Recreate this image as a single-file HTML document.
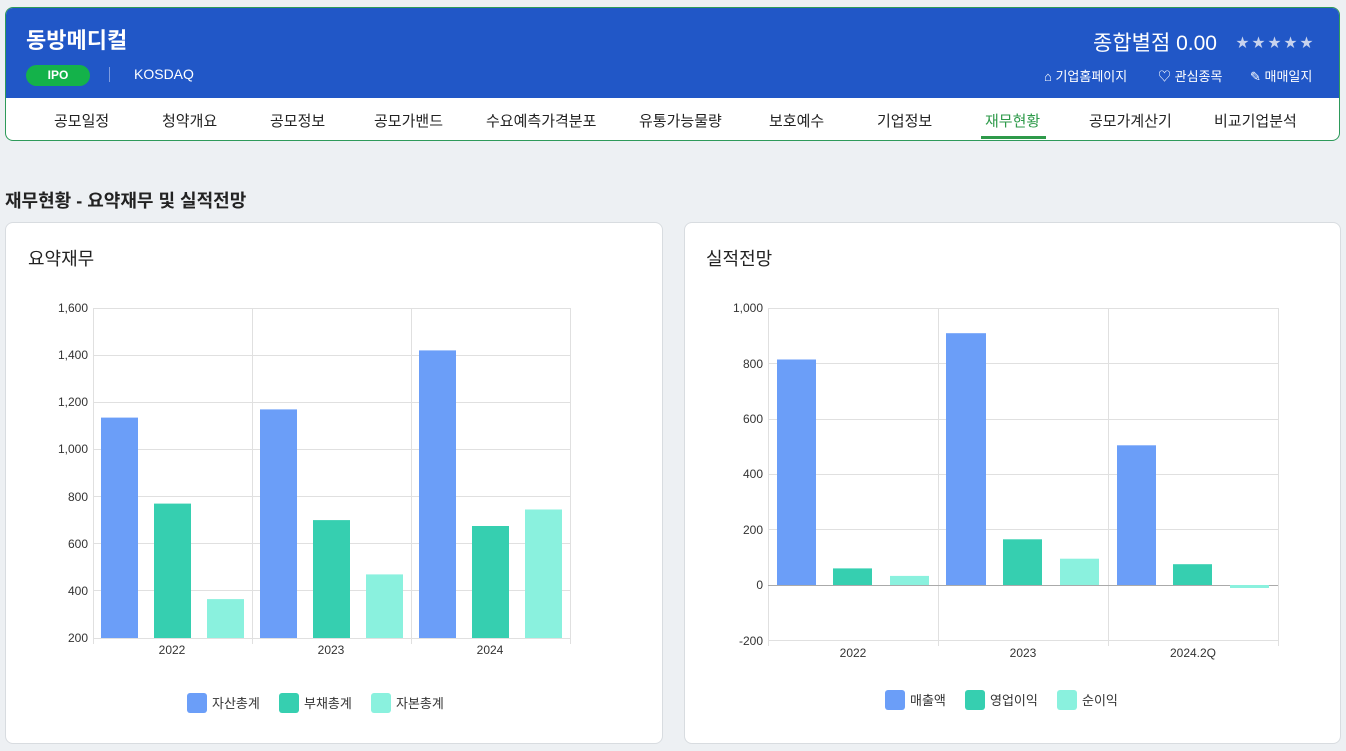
<!DOCTYPE html>
<html><head><meta charset="utf-8"><style>
body{margin:0;width:1346px;height:751px;background:#edf0f3;font-family:"Liberation Sans","Noto Sans CJK KR",sans-serif;position:relative;overflow:hidden;color:#222}
.top{position:absolute;left:5px;top:7px;width:1333px;height:132px;border:1px solid #2e9a5a;border-radius:8px;background:#fff;overflow:hidden}
.blue{position:absolute;left:0;top:0;width:100%;height:90px;background:#2157c7;color:#fff}
.abs{position:absolute;white-space:nowrap}
.nav{position:absolute;top:102px;font-size:15px;color:#222}
.card{position:absolute;top:222px;height:520px;background:#fff;border:1px solid #d8dce0;border-radius:8px}
</style></head><body>
<div class="top">
 <div class="blue">
  <div class="abs" style="left:20px;top:15px;font-size:22px;font-weight:bold">동방메디컬</div>
  <div class="abs" style="left:20px;top:57px;width:64px;height:21px;border-radius:11px;background:#14b24a;font-size:12px;font-weight:bold;text-align:center;line-height:21px">IPO</div>
  <div class="abs" style="left:103px;top:59px;width:1px;height:15px;background:#7d9be0"></div>
  <div class="abs" style="left:128px;top:58px;font-size:14px">KOSDAQ</div>
  <div class="abs" style="left:1087px;top:19px;font-size:21px">종합별점 0.00</div>
  <div class="abs" style="left:1230px;top:24px;font-size:13px;color:#c8d3ee;letter-spacing:3px">★★★★★</div>
  <div class="abs" style="left:1038px;top:58px;font-size:13px">⌂ 기업홈페이지</div>
  <div class="abs" style="left:1152px;top:58px;font-size:13px">♡ 관심종목</div>
  <div class="abs" style="left:1244px;top:58px;font-size:13px">✎ 매매일지</div>
 </div>
 <div class="nav" style="left:48px">공모일정</div>
 <div class="nav" style="left:156px">청약개요</div>
 <div class="nav" style="left:264px">공모정보</div>
 <div class="nav" style="left:368px">공모가밴드</div>
 <div class="nav" style="left:480px">수요예측가격분포</div>
 <div class="nav" style="left:633px">유통가능물량</div>
 <div class="nav" style="left:763px">보호예수</div>
 <div class="nav" style="left:871px">기업정보</div>
 <div class="nav" style="left:979px;color:#2e9a4a">재무현황</div>
 <div class="abs" style="left:975px;top:128px;width:65px;height:3px;background:#2e9a4a"></div>
 <div class="nav" style="left:1083px">공모가계산기</div>
 <div class="nav" style="left:1208px">비교기업분석</div>
</div>
<div class="abs" style="left:5px;top:187px;font-size:18px;font-weight:bold">재무현황 - 요약재무 및 실적전망</div>
<div class="card" style="left:5px;width:656px"></div>
<div class="card" style="left:684px;width:655px"></div>
<div class="abs" style="left:28px;top:245px;font-size:18px">요약재무</div>
<div class="abs" style="left:706px;top:245px;font-size:18px">실적전망</div>
<svg class="abs" style="left:0;top:0" width="1346" height="751" font-family="Liberation Sans, Noto Sans CJK KR, sans-serif" font-size="12" fill="#333">
<g stroke="#e0e0e0" stroke-width="1">
<line x1="93" x2="570" y1="308.5" y2="308.5"/><line x1="93" x2="570" y1="355.5" y2="355.5"/><line x1="93" x2="570" y1="402.5" y2="402.5"/><line x1="93" x2="570" y1="449.5" y2="449.5"/><line x1="93" x2="570" y1="496.5" y2="496.5"/><line x1="93" x2="570" y1="543.5" y2="543.5"/><line x1="93" x2="570" y1="590.5" y2="590.5"/><line x1="93" x2="570" y1="638.5" y2="638.5"/>
<line x1="93.5" x2="93.5" y1="308" y2="644"/><line x1="252.5" x2="252.5" y1="308" y2="644"/><line x1="411.5" x2="411.5" y1="308" y2="644"/><line x1="570.5" x2="570.5" y1="308" y2="644"/>
<line x1="768" x2="1278" y1="308.5" y2="308.5"/><line x1="768" x2="1278" y1="363.5" y2="363.5"/><line x1="768" x2="1278" y1="419.5" y2="419.5"/><line x1="768" x2="1278" y1="474.5" y2="474.5"/><line x1="768" x2="1278" y1="529.5" y2="529.5"/><line x1="768" x2="1278" y1="640.5" y2="640.5"/>
<line x1="768.5" x2="768.5" y1="308" y2="646"/><line x1="938.5" x2="938.5" y1="308" y2="646"/><line x1="1108.5" x2="1108.5" y1="308" y2="646"/><line x1="1278.5" x2="1278.5" y1="308" y2="646"/>
</g>
<line x1="768" x2="1278" y1="585.5" y2="585.5" stroke="#aaa"/>
<g text-anchor="end">
<text x="88" y="312">1,600</text><text x="88" y="359">1,400</text><text x="88" y="406">1,200</text><text x="88" y="453">1,000</text><text x="88" y="501">800</text><text x="88" y="548">600</text><text x="88" y="595">400</text><text x="88" y="642">200</text>
<text x="763" y="312">1,000</text><text x="763" y="368">800</text><text x="763" y="423">600</text><text x="763" y="478">400</text><text x="763" y="534">200</text><text x="763" y="589">0</text><text x="763" y="645">-200</text>
</g>
<g text-anchor="middle">
<text x="172" y="654">2022</text><text x="331" y="654">2023</text><text x="490" y="654">2024</text>
<text x="853" y="657">2022</text><text x="1023" y="657">2023</text><text x="1193" y="657">2024.2Q</text>
</g>
<g fill="#6b9ef8">
<rect x="101" y="417.6" width="37" height="220.4"/><rect x="260" y="409.4" width="37" height="228.6"/><rect x="419" y="350.4" width="37" height="287.6"/>
<rect x="777" y="359.5" width="39" height="225.5"/><rect x="946" y="333.2" width="40" height="251.8"/><rect x="1117" y="445.3" width="39" height="139.7"/>
</g>
<g fill="#36cfb0">
<rect x="154" y="503.6" width="37" height="134.4"/><rect x="313" y="520.1" width="37" height="117.9"/><rect x="472" y="526" width="37" height="112"/>
<rect x="833" y="568.4" width="39" height="16.6"/><rect x="1003" y="539.3" width="39" height="45.7"/><rect x="1173" y="564.2" width="39" height="20.8"/>
</g>
<g fill="#8af1de">
<rect x="207" y="599.1" width="37" height="38.9"/><rect x="366" y="574.4" width="37" height="63.6"/><rect x="525" y="509.5" width="37" height="128.5"/>
<rect x="890" y="575.9" width="39" height="9.1"/><rect x="1060" y="558.7" width="39" height="26.3"/><rect x="1230" y="585" width="39" height="3"/>
</g>
<g font-size="13">
<rect x="187" y="693" width="20" height="20" rx="3" fill="#6b9ef8"/><text x="212" y="708">자산총계</text>
<rect x="279" y="693" width="20" height="20" rx="3" fill="#36cfb0"/><text x="304" y="708">부채총계</text>
<rect x="371" y="693" width="20" height="20" rx="3" fill="#8af1de"/><text x="396" y="708">자본총계</text>
<rect x="885" y="690" width="20" height="20" rx="3" fill="#6b9ef8"/><text x="910" y="705">매출액</text>
<rect x="965" y="690" width="20" height="20" rx="3" fill="#36cfb0"/><text x="990" y="705">영업이익</text>
<rect x="1057" y="690" width="20" height="20" rx="3" fill="#8af1de"/><text x="1082" y="705">순이익</text>
</g>
</svg>
</body></html>
